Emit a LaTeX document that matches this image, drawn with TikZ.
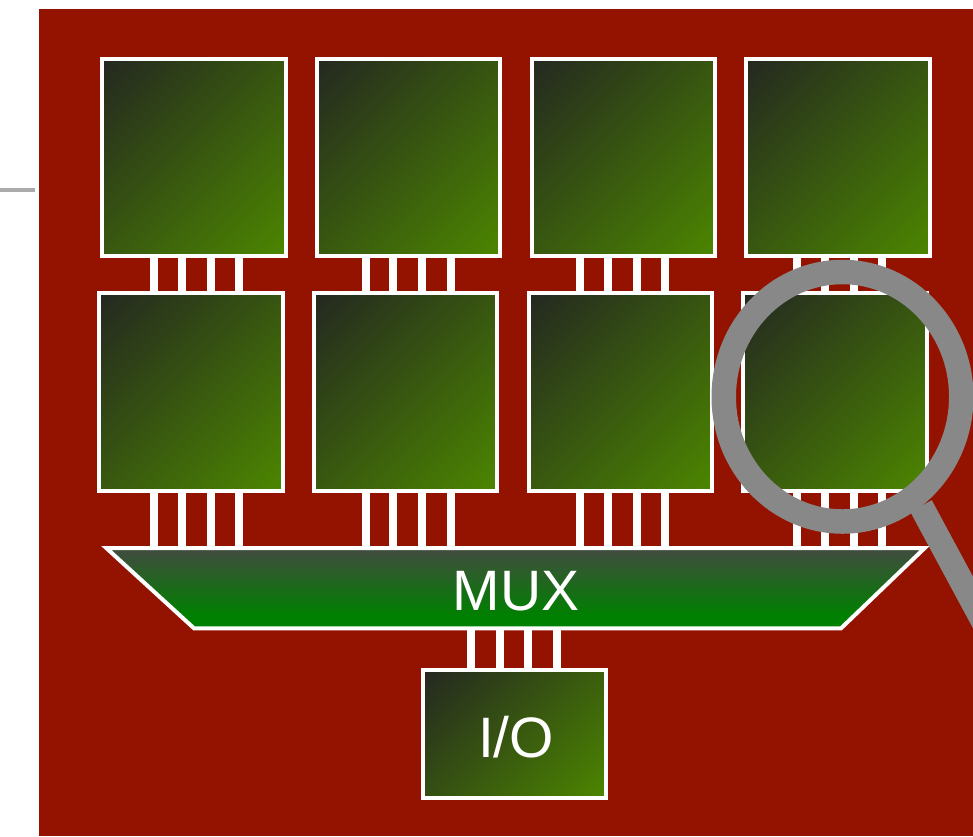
\documentclass[tikz,border=0pt]{standalone}
\usepackage{fontspec}
\setmainfont{Liberation Sans}
\usetikzlibrary{calc}
\definecolor{DieRed}{RGB}{148,19,0}
\definecolor{CellDark}{RGB}{36,40,32}
\definecolor{CellGreen}{RGB}{76,134,0}
\definecolor{MuxGray}{RGB}{66,75,64}
\definecolor{MuxGreen}{RGB}{0,128,0}
\definecolor{LensGray}{RGB}{136,136,136}
\definecolor{StubGray}{RGB}{170,170,170}
\pgfdeclareverticalshading{cellshade}{100bp}{color(0bp)=(CellGreen); color(14.65bp)=(CellGreen); color(85.35bp)=(CellDark); color(100bp)=(CellDark)}
\pgfdeclareverticalshading{muxshade}{100bp}{color(0bp)=(MuxGreen); color(33bp)=(MuxGreen); color(75bp)=(MuxGray); color(100bp)=(MuxGray)}

\begin{document}
\begin{tikzpicture}[x=1pt,y=-1pt,
    cell/.style={draw=white,line width=4pt,rectangle,shading=cellshade,shading angle=45,minimum width=183.2pt,minimum height=197.6pt},
    iobox/.style={cell,minimum height=127.7pt},
    muxbox/.style={draw=white,line width=4pt,shading=muxshade},
    pin/.style={draw=white,line width=8pt},
    biglabel/.style={white,font=\fontsize{57}{57}\selectfont,inner sep=0pt},
    lens/.style={draw=LensGray,line width=24.5pt}]
      \useasboundingbox (0,0) rectangle (973,836);
      \fill[DieRed] (38.5,8.5) rectangle (973,836);
      \coordinate (stubA) at (0,190);
      \coordinate (stubB) at (34.5,190);
      \draw[StubGray,line width=4.5pt] (stubA)--(stubB);
      % mux outline, pins stop at its edges
      \draw[muxbox] (106.5,548.2)--(924.5,548.2)--(841,628.3)--(194,628.3)--cycle;
      \coordinate (muxN) at (515.5,546.2);
      \coordinate (muxS) at (515.5,630.3);
      % two rows of cells
      \foreach \c/\b in {0/154,1/365.6,2/580,3/797}{
        \node[cell] (top\c) at (193.9+214.7*\c,157.5) {};
        \node[cell] (low\c) at (190.9+214.7*\c,391.8) {};
        \foreach \p in {0,27.7,56.5,85}{
          \coordinate (pt) at (\b+\p,0);
          \draw[pin] (pt |- top\c.south)--(pt |- low\c.north);
          \draw[pin] (pt |- low\c.south)--(pt |- muxN);
        }
      }
      \node[biglabel] (muxtext) at (516,591.5) {MUX};
      \node[iobox] (io) at (514.65,734.15) {};
      \node[biglabel] (iotext) at (516,737.5) {I/O};
      \foreach \p in {470.8,499.5,528,556.7}{
        \coordinate (pt) at (\p,700);
        \draw[pin] (pt |- muxS)--(pt |- io.north);
      }
      % magnifier on top
      \draw[lens] (842.5,396.75) ellipse (118.75 and 124.75);
      \draw[lens] (921,506)--(990,634);
    \end{tikzpicture}
\end{document}
